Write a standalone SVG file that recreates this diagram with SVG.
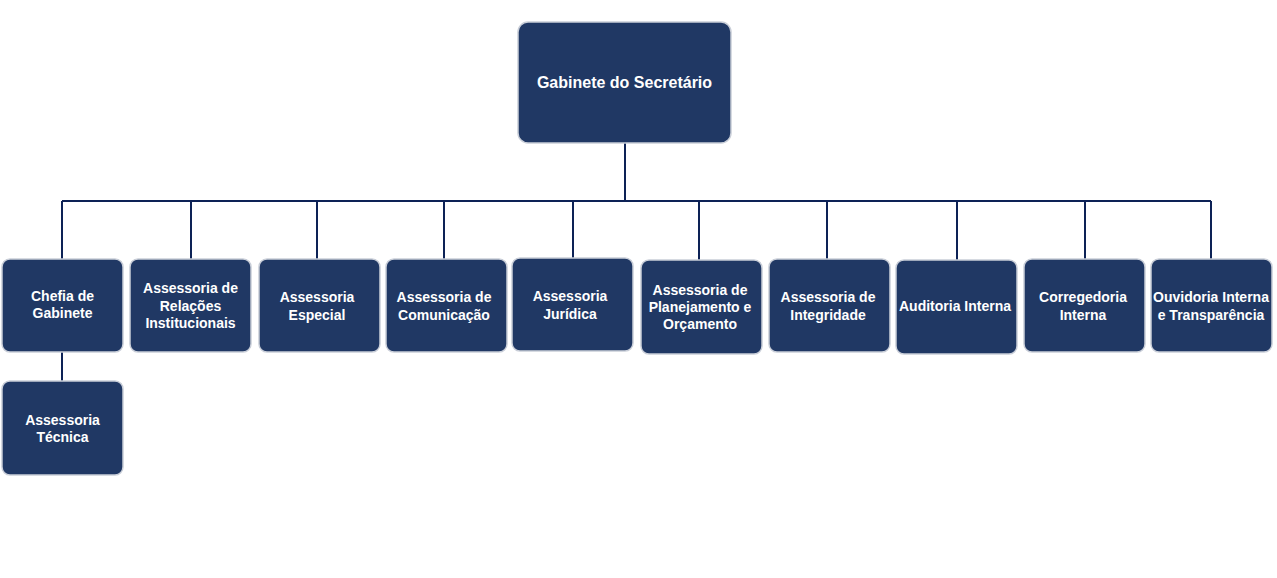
<svg xmlns="http://www.w3.org/2000/svg" width="1277" height="578" viewBox="0 0 1277 578">
<style>
.n rect{fill:#203864;stroke:#c9ced8;stroke-width:1.5}
.n text{fill:#fff;font-family:"Liberation Sans",Arial,sans-serif;font-weight:bold;font-size:14px;text-anchor:middle}
.c{stroke:#0d2256;stroke-width:2;fill:none}
</style>
<rect width="1277" height="578" fill="#fff"/>
<g id="connectors" class="c">
<path d="M625 143V201M62 201H1211M62 201V259M191 201V259M317 201V259M444 201V259M573 201V258M699 201V260M827 201V259M957 201V260M1085 201V259M1211 201V259M62 352V381"/>
</g>
<g id="gabinete" class="n"><rect x="518" y="22" width="213" height="121" rx="10"/><text x="624.5" y="88" style="font-size:16px">Gabinete do Secretário</text></g>
<g id="chefia" class="n"><rect x="2" y="259" width="121" height="93" rx="8"/><text x="62.5" y="301">Chefia de</text><text x="62.5" y="318">Gabinete</text></g>
<g id="tecnica" class="n"><rect x="2" y="381" width="121" height="94" rx="8"/><text x="62.5" y="425">Assessoria</text><text x="62.5" y="442">Técnica</text></g>
<g id="relacoes" class="n"><rect x="130" y="259" width="121" height="93" rx="8"/><text x="190.5" y="293">Assessoria de</text><text x="190.5" y="311">Relações</text><text x="190.5" y="328">Institucionais</text></g>
<g id="especial" class="n"><rect x="259" y="259" width="121" height="93" rx="8"/><text x="317" y="302">Assessoria</text><text x="317" y="320">Especial</text></g>
<g id="comunicacao" class="n"><rect x="386" y="259" width="121" height="93" rx="8"/><text x="444" y="302">Assessoria de</text><text x="444" y="320">Comunicação</text></g>
<g id="juridica" class="n"><rect x="512" y="258" width="121" height="93" rx="8"/><text x="570" y="301">Assessoria</text><text x="570" y="319">Jurídica</text></g>
<g id="planejamento" class="n"><rect x="641" y="260" width="121" height="94" rx="8"/><text x="700" y="295">Assessoria de</text><text x="700" y="312">Planejamento e</text><text x="700" y="329">Orçamento</text></g>
<g id="integridade" class="n"><rect x="769" y="259" width="121" height="93" rx="8"/><text x="828" y="302">Assessoria de</text><text x="828" y="320">Integridade</text></g>
<g id="auditoria" class="n"><rect x="896" y="260" width="121" height="94" rx="8"/><text x="955" y="311">Auditoria Interna</text></g>
<g id="corregedoria" class="n"><rect x="1024" y="259" width="121" height="93" rx="8"/><text x="1083" y="302">Corregedoria</text><text x="1083" y="320">Interna</text></g>
<g id="ouvidoria" class="n"><rect x="1151" y="259" width="121" height="93" rx="8"/><text x="1211" y="302">Ouvidoria Interna</text><text x="1211" y="320">e Transparência</text></g>
</svg>
